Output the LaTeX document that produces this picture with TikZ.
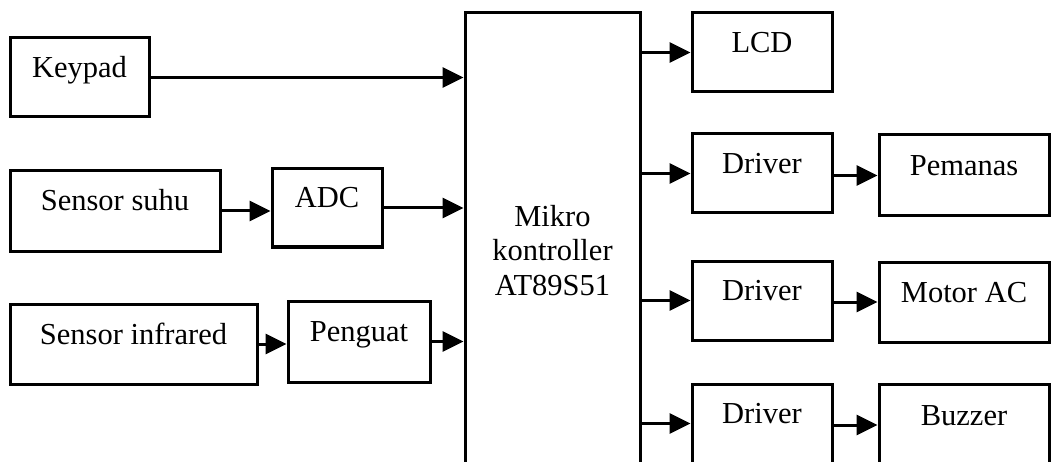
\documentclass[tikz,border=0pt]{standalone}
\usepackage{fontspec}
\setmainfont{Liberation Serif}
\usetikzlibrary{arrows.meta}
\begin{document}
\begin{tikzpicture}[x=1pt,y=-1pt,
  lbl/.style={font=\fontsize{30.5}{34.5}\selectfont},
  box/.style={draw, line width=3pt, inner sep=0pt, text height=10pt, text depth=10pt, lbl},
  arr/.style={line width=3pt, -{Triangle[length=21pt,width=20pt]}}]
\useasboundingbox (0,0) rectangle (1051,462);
\fill[white] (0,0) rectangle (1051,462);
\clip (0,0) rectangle (1051,462);
% left column
\node[box, minimum width=139pt, minimum height=79pt] (kp) at (79.5,77.5) {Keypad};
\node[box, minimum width=210pt, minimum height=80pt] (ss) at (115,211) {Sensor suhu};
\node[box, minimum width=110pt, minimum height=78pt] (adc) at (327,208) {ADC};
\node[box, minimum width=247pt, minimum height=80pt] (si) at (133.5,344) {Sensor infrared};
\node[box, minimum width=142pt, minimum height=81pt] (pg) at (359,341.5) {Penguat};
% microcontroller
\node[draw, line width=3pt, minimum width=175pt, minimum height=478pt, inner sep=0pt] (mk) at (552.5,252) {};
\node[lbl, align=center, anchor=base] (mkt) at (552.5,295) {Mikro\\kontroller\\AT89S51};
% right column
\node[box, minimum width=140pt, minimum height=79pt] (lcd) at (762,52.5) {LCD};
\node[box, minimum width=140pt, minimum height=79pt] (d1) at (762,173.5) {Driver};
\node[box, minimum width=170pt, minimum height=81pt] (pm) at (964,175.5) {Pemanas};
\node[box, minimum width=140pt, minimum height=79pt] (d2) at (762,300.5) {Driver};
\node[box, minimum width=170pt, minimum height=80pt] (ma) at (964,302) {Motor AC};
\node[box, minimum width=140pt, minimum height=79pt] (d3) at (762,423.5) {Driver};
\node[box, minimum width=170pt, minimum height=82pt] (bz) at (964,425) {Buzzer};
% connectors
\draw[arr] (kp.east) -- (kp.east -| mk.west);
\draw[arr] (ss.east) -- (ss.east -| adc.west);
\draw[arr] (adc.east) -- (adc.east -| mk.west);
\draw[arr] (si.east) -- (si.east -| pg.west);
\draw[arr] (pg.east) -- (pg.east -| mk.west);
\draw[arr] (mk.east |- lcd.west) -- (lcd.west);
\draw[arr] (mk.east |- d1.west) -- (d1.west);
\draw[arr] (mk.east |- d2.west) -- (d2.west);
\draw[arr] (mk.east |- d3.west) -- (d3.west);
\draw[arr] (d1.east |- pm.west) -- (pm.west);
\draw[arr] (d2.east |- ma.west) -- (ma.west);
\draw[arr] (d3.east |- bz.west) -- (bz.west);
\end{tikzpicture}
\end{document}
